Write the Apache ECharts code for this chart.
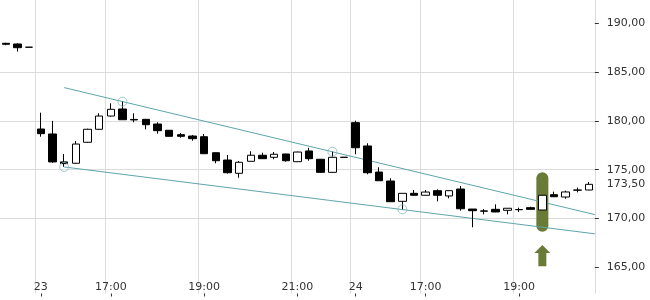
<!DOCTYPE html>
<html>
<head>
<meta charset="utf-8">
<script src="https://cdn.jsdelivr.net/npm/echarts@6/dist/echarts.min.js"></script>
<style>html,body{margin:0;padding:0;background:#fff}#c{width:650px;height:300px}</style>
</head>
<body>
<div id="c"></div>
<script>
// 15-minute candles (German time, US trading hours)
var categories = [
  '22 21:30','22 21:45','22 22:00',
  '23 15:30','23 15:45','23 16:00','23 16:15','23 16:30','23 16:45','23 17:00','23 17:15','23 17:30','23 17:45',
  '23 18:00','23 18:15','23 18:30','23 18:45','23 19:00','23 19:15','23 19:30','23 19:45','23 20:00','23 20:15',
  '23 20:30','23 20:45','23 21:00','23 21:15','23 21:30','23 21:45','23 22:00',
  '24 15:30','24 15:45','24 16:00','24 16:15','24 16:30','24 16:45','24 17:00','24 17:15','24 17:30','24 17:45',
  '24 18:00','24 18:15','24 18:30','24 18:45','24 19:00','24 19:15','24 19:30','24 19:45','24 20:00','24 20:15','24 20:30'
];
var opens  = [187.95,187.88,187.55,179.17,178.66,175.80,175.66,177.81,179.14,180.50,181.22,180.15,180.16,179.68,179.04,178.59,178.45,178.38,176.74,175.99,174.63,175.86,176.48,176.27,176.61,175.82,176.92,176.07,174.73,176.27,179.82,177.43,174.76,173.84,171.76,172.58,172.38,172.85,172.31,173.02,170.97,170.78,170.94,170.84,170.90,171.11,170.87,172.44,172.20,172.90,172.92];
var closes = [187.85,187.50,187.55,178.69,175.80,175.62,177.63,179.14,180.50,181.19,180.12,180.10,179.61,179.00,178.42,178.42,178.18,176.64,175.92,174.69,175.76,176.48,176.13,176.58,175.92,176.81,176.13,174.73,176.27,176.27,177.25,174.69,173.87,171.72,172.58,172.38,172.71,172.38,172.85,171.00,170.80,170.75,170.67,171.05,170.92,170.94,172.38,172.23,172.72,172.92,173.50];
var lows   = [187.75,187.10,187.55,178.38,175.70,175.30,175.60,177.75,179.10,180.45,180.10,179.86,179.14,178.69,178.40,178.28,177.97,176.60,175.66,174.60,174.18,175.85,176.10,176.07,175.82,175.80,175.92,174.70,174.70,176.27,176.58,174.53,173.85,171.70,170.94,172.35,172.35,171.76,172.07,170.80,169.10,170.43,170.65,170.43,170.67,170.93,170.85,172.20,172.03,172.68,172.90];
var highs  = [188.00,187.95,187.55,180.84,180.00,176.60,177.94,179.20,180.78,181.80,181.97,180.78,180.20,179.86,179.05,178.76,178.55,178.66,176.75,176.51,175.89,176.89,176.74,176.81,176.62,176.85,177.25,176.10,176.84,176.27,180.02,177.71,175.25,174.12,172.60,172.92,172.92,172.99,172.87,173.33,170.97,170.97,171.45,171.06,171.11,171.21,172.40,172.75,172.85,173.16,173.74];

// x-axis labels
var labelCats  = ['23 15:30','23 17:00','23 19:00','23 21:00','24 15:30','24 17:00','24 19:00'];
var labelTexts = ['23','17:00','19:00','21:00','24','17:00','19:00'];
// y-axis ticks
var yTicks = [165,170,175,180,185,190];
var lastPrice = 173.50;
var lastPriceText = '173,50';

// trend channel (x in candle index units)
var upperLine = [[5,183.41],[50.5,170.40]];
var lowerLine = [[5,175.28],[50.5,168.43]];
var touchPoints = [[5,175.28],[10,181.97],[28,176.84],[34,170.94]];
// highlight marker: [index, top, bottom]
var highlight = [[46,174.73,168.65]];
var arrow = [[46,167.29,165.10]];

var candleData = opens.map(function(o,i){return [o, closes[i], lows[i], highs[i]];});
var labelIdx = labelCats.map(function(c){return categories.indexOf(c);});
function isLabel(i){return labelIdx.indexOf(i) >= 0;}

var GREEN = '#6a7b37', TEAL = '#5ea5ab', GRID = '#dcdcdc', TXT = '#333';

var chart = echarts.init(document.getElementById('c'), null, {renderer:'canvas'});
chart.setOption({
  animation: false,
  backgroundColor: '#fff',
  textStyle: {fontFamily: 'DejaVu Sans'},
  grid: {left: -0.84, right: 55.16, top: 0, bottom: 6.5, containLabel: false},
  xAxis: [{
    type: 'category', data: categories, boundaryGap: true,
    axisLine: {show: false, onZero: false},
    axisTick: {show: true, length: 3, alignWithLabel: true, lineStyle: {color: TXT},
      interval: function(i){return isLabel(i);}},
    axisLabel: {inside: true, margin: 1, color: TXT, fontSize: 11, fontFamily: 'DejaVu Sans',
      interval: function(i){return isLabel(i);},
      formatter: function(v, i){var k = labelIdx.indexOf(i); return k >= 0 ? labelTexts[k] : '';}},
    splitLine: {show: true, lineStyle: {color: GRID, width: 1},
      interval: function(i){return isLabel(i);}}
  }, {
    type: 'value', min: -0.5, max: 50.5, show: false, axisLine: {onZero: false}
  }],
  yAxis: {
    type: 'value', position: 'right', min: 162.316, max: 192.387,
    axisLine: {show: false, onZero: false},
    axisTick: {show: true, length: 4, lineStyle: {color: TXT}, customValues: yTicks},
    axisLabel: {margin: 12, color: TXT, fontSize: 11, fontFamily: 'DejaVu Sans', customValues: yTicks,
      formatter: function(v){return v.toFixed(2).replace('.', ',');}},
    splitLine: {show: true, showMinLine: false, showMaxLine: false, lineStyle: {color: GRID, width: 1}}
  },
  series: [{
    type: 'custom', z: 1, xAxisIndex: 0, data: highlight,
    renderItem: function(params, api){
      var t = api.coord([api.value(0), api.value(1)]);
      var b = api.coord([api.value(0), api.value(2)]);
      return {type: 'rect', shape: {x: t[0]-6, y: t[1], width: 12, height: b[1]-t[1], r: 6}, style: {fill: GREEN}};
    }
  }, {
    type: 'custom', z: 1, xAxisIndex: 0, data: arrow,
    renderItem: function(params, api){
      var t = api.coord([api.value(0), api.value(1)]);
      var b = api.coord([api.value(0), api.value(2)]);
      var x = t[0], y = t[1], h = 8;
      return {type: 'polygon', shape: {points: [[x, y],[x+8, y+h],[x+4, y+h],[x+4, b[1]],[x-4, b[1]],[x-4, y+h],[x-8, y+h]]},
        style: {fill: GREEN}};
    }
  }, {
    type: 'line', xAxisIndex: 1, data: upperLine, symbol: 'none', z: 3,
    lineStyle: {color: TEAL, width: 1}
  }, {
    type: 'line', xAxisIndex: 1, data: lowerLine, symbol: 'none', z: 3,
    lineStyle: {color: TEAL, width: 1}
  }, {
    type: 'candlestick', xAxisIndex: 0, data: candleData, barWidth: 8, z: 4,
    itemStyle: {color: '#fff', color0: '#000', borderColor: '#000', borderColor0: '#000', borderColorDoji: '#000', borderWidth: 1},
    markLine: {
      silent: true, symbol: ['none','none'], animation: false,
      lineStyle: {color: 'rgba(0,0,0,0)', width: 0},
      label: {show: true, position: 'end', distance: 12, color: TXT, fontSize: 11, fontFamily: 'DejaVu Sans',
        formatter: function(){return lastPriceText;}},
      data: [{yAxis: lastPrice}]
    }
  }, {
    type: 'scatter', xAxisIndex: 0, data: touchPoints, symbol: 'circle', symbolSize: 9, z: 5,
    itemStyle: {color: 'rgba(0,0,0,0)', borderColor: '#86bcc1', borderWidth: 1}
  }]
});
</script>
</body>
</html>
